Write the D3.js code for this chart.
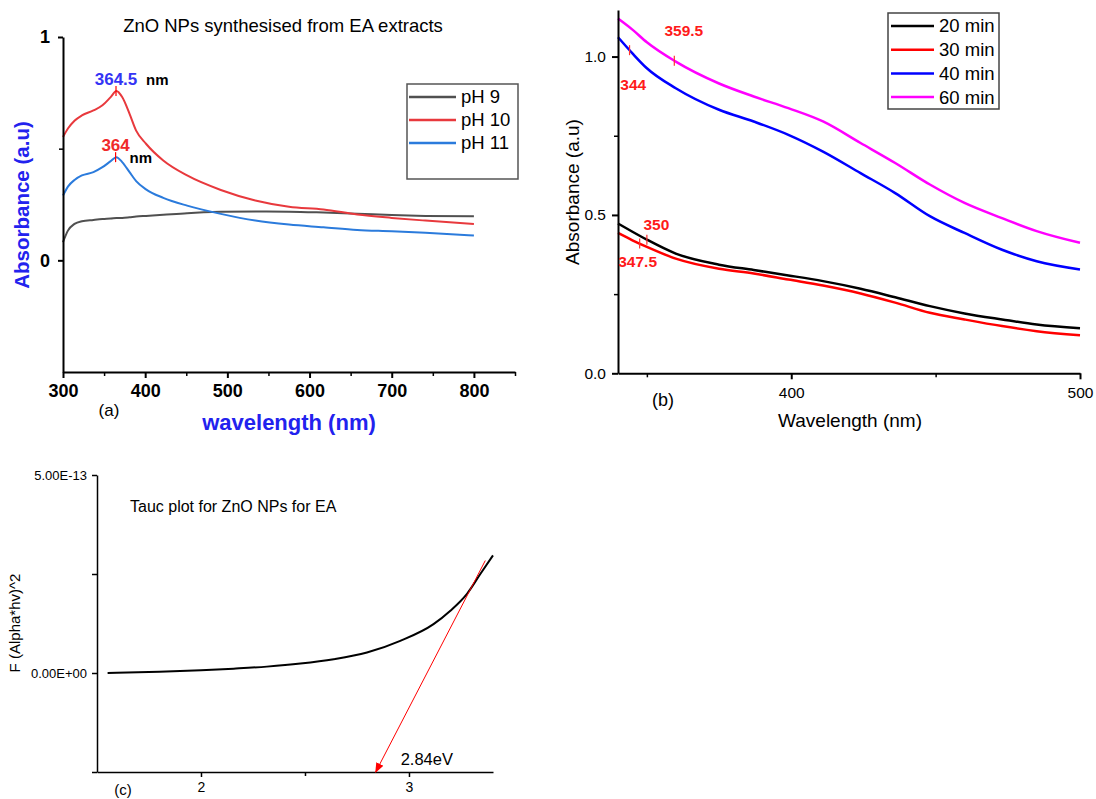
<!DOCTYPE html>
<html>
<head>
<meta charset="utf-8">
<script src="https://cdn.jsdelivr.net/npm/d3@7"></script>
<style>
body { margin: 0; background: #fff; }
svg { display: block; font-family: "Liberation Sans", Arial, sans-serif; }
</style>
</head>
<body>
<div id="chart"></div>
<script>
// (a) ZnO NPs at different pH
var wlA = [300, 306, 314, 323, 337, 348, 358, 365, 372, 381, 389, 401, 422, 451, 492, 534, 575, 617, 658, 700, 741, 800];
var ph9 = [0.081, 0.133, 0.163, 0.175, 0.181, 0.185, 0.187, 0.189, 0.19, 0.193, 0.196, 0.199, 0.204, 0.211, 0.217, 0.219, 0.218, 0.214, 0.209, 0.203, 0.199, 0.197];
var ph10 = [0.552, 0.59, 0.625, 0.649, 0.671, 0.694, 0.731, 0.758, 0.731, 0.656, 0.581, 0.522, 0.447, 0.38, 0.315, 0.268, 0.24, 0.228, 0.205, 0.19, 0.178, 0.163];
var ph11 = [0.29, 0.33, 0.36, 0.38, 0.395, 0.417, 0.444, 0.462, 0.44, 0.395, 0.355, 0.318, 0.28, 0.245, 0.208, 0.178, 0.16, 0.148, 0.136, 0.13, 0.123, 0.111];
var phNames = ["pH 9", "pH 10", "pH 11"];
var peakA10 = 364.5;
var peakA11 = 364;

// (b) reaction time
var wlB = [340, 345, 350, 360, 375, 387, 399, 411, 424, 436, 448, 460, 473, 485, 500];
var t20 = [0.473, 0.447, 0.422, 0.378, 0.343, 0.326, 0.309, 0.291, 0.267, 0.24, 0.212, 0.189, 0.17, 0.154, 0.142];
var t30 = [0.443, 0.42, 0.399, 0.362, 0.33, 0.315, 0.296, 0.277, 0.252, 0.223, 0.191, 0.17, 0.149, 0.133, 0.12];
var t40 = [1.061, 1.01, 0.963, 0.9, 0.832, 0.795, 0.753, 0.7, 0.632, 0.569, 0.496, 0.443, 0.39, 0.354, 0.328];
var t60 = [1.12, 1.085, 1.045, 0.984, 0.915, 0.874, 0.837, 0.795, 0.727, 0.664, 0.596, 0.538, 0.49, 0.449, 0.412];
var timeNames = ["20 min", "30 min", "40 min", "60 min"];
var peaksB = [350, 347.5, 344, 359.5];

// (c) Tauc plot, values in units of 1E-13
var eV = [1.551, 1.8, 2.0, 2.157, 2.317, 2.478, 2.638, 2.798, 2.958, 3.118, 3.199, 3.279, 3.343, 3.404];
var tauc = [0, 0.03, 0.068, 0.11, 0.161, 0.237, 0.347, 0.516, 0.812, 1.235, 1.574, 2.0, 2.5, 2.97];
var gapEV = 2.84;
var tangentEV = [3.367, 2.84];
var tangentF = [2.84, -2.5];

var svg = d3.select("#chart").append("svg")
    .attr("width", 1096)
    .attr("height", 799);
svg.append("rect").attr("width", 1096).attr("height", 799).attr("fill", "#fff");

function styleAxis(g, w, fs, bold) {
    g.select(".domain").attr("stroke", "#000").attr("stroke-width", w);
    g.selectAll(".tick line").attr("stroke", "#000").attr("stroke-width", w);
    g.selectAll(".tick text").attr("fill", "#000")
        .attr("font-size", fs + "px")
        .attr("font-family", "Liberation Sans, Arial, sans-serif")
        .attr("font-weight", bold ? "bold" : "normal");
}

// minor ticks, no labels, no domain line
function minor(g, axis) {
    g.call(axis);
    g.select(".domain").remove();
    g.selectAll(".tick line").attr("stroke", "#000").attr("stroke-width", 1.5);
}

function pts(xs, ys) {
    return xs.map(function(v, i) { return [v, ys[i]]; });
}

function drawA() {
    var x = d3.scaleLinear().domain([300, 850]).range([63, 515]);
    var y = d3.scaleLinear().domain([-0.5, 1]).range([372, 37]);
    var g = svg.append("g");
    var colors = ["#505050", "#e8393d", "#2b7bdc"];
    var series = [ph9, ph10, ph11];

    var line = d3.line()
        .x(function(d) { return x(d[0]); })
        .y(function(d) { return y(d[1]); })
        .curve(d3.curveMonotoneX);

    series.forEach(function(s, i) {
        g.append("path").attr("d", line(pts(wlA, s)))
            .attr("fill", "none").attr("stroke", colors[i]).attr("stroke-width", 2);
    });

    g.append("g").attr("transform", "translate(0,372)")
        .call(d3.axisBottom(x).tickValues([300, 400, 500, 600, 700, 800]).tickSize(6).tickSizeOuter(0).tickPadding(6))
        .call(styleAxis, 2, 18, true);
    minor(g.append("g").attr("transform", "translate(0,372)"),
        d3.axisBottom(x).tickValues([350, 450, 550, 650, 750, 850]).tickSize(4).tickFormat(""));

    g.append("g").attr("transform", "translate(63,0)")
        .call(d3.axisLeft(y).tickValues([0, 1]).tickFormat(d3.format("d")).tickSize(5).tickSizeOuter(0).tickPadding(8))
        .call(styleAxis, 2, 18, true);
    minor(g.append("g").attr("transform", "translate(63,0)"),
        d3.axisLeft(y).tickValues([0.5]).tickSize(4).tickFormat(""));

    // peak markers
    var p10 = [peakA10, 0.758], p11 = [peakA11, 0.462];
    [p10, p11].forEach(function(p) {
        g.append("line").attr("x1", x(p[0])).attr("x2", x(p[0]))
            .attr("y1", y(p[1]) - 5).attr("y2", y(p[1]) + 5)
            .attr("stroke", "#ff0000").attr("stroke-width", 1.2);
    });
    g.append("text").attr("x", x(p10[0])).attr("y", y(p10[1]) - 6.5)
        .attr("text-anchor", "middle").attr("font-size", "17px").attr("font-weight", "bold")
        .attr("fill", "#3434f5").text(peakA10);
    g.append("text").attr("x", x(p10[0]) + 30).attr("y", y(p10[1]) - 6.5)
        .attr("font-size", "15px").attr("font-weight", "bold").text("nm");
    g.append("text").attr("x", x(p11[0])).attr("y", y(p11[1]) - 6.5)
        .attr("text-anchor", "middle").attr("font-size", "17px").attr("font-weight", "bold")
        .attr("fill", "#f02a2a").text(peakA11);
    g.append("text").attr("x", x(p11[0]) + 14).attr("y", y(p11[1]) + 5.5)
        .attr("font-size", "15px").attr("font-weight", "bold").text("nm");

    // title & labels
    g.append("text").attr("x", 283).attr("y", 32).attr("text-anchor", "middle")
        .attr("font-size", "18.5px").text("ZnO NPs synthesised from EA extracts");
    g.append("text").attr("x", 109).attr("y", 416).attr("text-anchor", "middle")
        .attr("font-size", "17px").text("(a)");
    g.append("text").attr("x", 289).attr("y", 430).attr("text-anchor", "middle")
        .attr("font-size", "22px").attr("font-weight", "bold").attr("fill", "#2222ee")
        .text("wavelength (nm)");
    g.append("text").attr("transform", "translate(29,205) rotate(-90)").attr("text-anchor", "middle")
        .attr("font-size", "20.5px").attr("font-weight", "bold").attr("fill", "#2222ee")
        .text("Absorbance (a.u)");

    // legend
    var lg = g.append("g");
    lg.append("rect").attr("x", 407).attr("y", 84).attr("width", 111).attr("height", 95)
        .attr("fill", "#fff").attr("stroke", "#555").attr("stroke-width", 1.5);
    phNames.forEach(function(n, i) {
        var yy = 97 + i * 23;
        lg.append("line").attr("x1", 409).attr("x2", 456).attr("y1", yy).attr("y2", yy)
            .attr("stroke", colors[i]).attr("stroke-width", 2.5);
        lg.append("text").attr("x", 461).attr("y", yy).attr("dy", "0.35em")
            .attr("font-size", "18.5px").text(n);
    });
}

function drawB() {
    var x = d3.scaleLinear().domain([340, 500]).range([618, 1080]);
    var y = d3.scaleLinear().domain([0, 1.147]).range([373.3, 10]);
    var g = svg.append("g");
    var colors = ["#000000", "#ff0000", "#0000ff", "#ff00ff"];
    var series = [t20, t30, t40, t60];

    var line = d3.line()
        .x(function(d) { return x(d[0]); })
        .y(function(d) { return y(d[1]); })
        .curve(d3.curveMonotoneX);

    series.forEach(function(s, i) {
        g.append("path").attr("d", line(pts(wlB, s)))
            .attr("fill", "none").attr("stroke", colors[i]).attr("stroke-width", 2.5);
    });

    g.append("g").attr("transform", "translate(0,373.3)")
        .call(d3.axisBottom(x).tickValues([400, 500]).tickSize(6).tickSizeOuter(0).tickPadding(8))
        .call(styleAxis, 2, 15.5, false);
    minor(g.append("g").attr("transform", "translate(0,373.3)"),
        d3.axisBottom(x).tickValues([350, 450]).tickSize(4).tickFormat(""));

    g.append("g").attr("transform", "translate(618,0)")
        .call(d3.axisLeft(y).tickValues([0, 0.5, 1]).tickFormat(d3.format(".1f")).tickSize(6).tickSizeOuter(0).tickPadding(6))
        .call(styleAxis, 2, 15.5, false);
    minor(g.append("g").attr("transform", "translate(618,0)"),
        d3.axisLeft(y).tickValues([0.25, 0.75]).tickSize(4).tickFormat(""));

    // peak markers and labels
    var offs = [[9.5, -9.7], [-2, 23], [3.7, 39.7], [9.5, -24.7]];
    peaksB.forEach(function(p, i) {
        var v = d3.scaleLinear().domain(wlB).range(series[i])(p);
        var px = x(p), py = y(v);
        g.append("line").attr("x1", px).attr("x2", px).attr("y1", py - 5).attr("y2", py + 5)
            .attr("stroke", "#ff3030").attr("stroke-width", 1.2);
        g.append("text").attr("x", px + offs[i][0]).attr("y", py + offs[i][1])
            .attr("text-anchor", "middle").attr("font-size", "15.5px").attr("font-weight", "bold")
            .attr("fill", "#ff1a1a").text(p);
    });

    g.append("text").attr("x", 663).attr("y", 406).attr("text-anchor", "middle")
        .attr("font-size", "18px").text("(b)");
    g.append("text").attr("x", 850).attr("y", 427).attr("text-anchor", "middle")
        .attr("font-size", "19px").text("Wavelength (nm)");
    g.append("text").attr("transform", "translate(579,192) rotate(-90)").attr("text-anchor", "middle")
        .attr("font-size", "19px").text("Absorbance (a.u)");

    var lg = g.append("g");
    lg.append("rect").attr("x", 888).attr("y", 13).attr("width", 111).attr("height", 96)
        .attr("fill", "#fff").attr("stroke", "#444").attr("stroke-width", 1.5);
    timeNames.forEach(function(n, i) {
        var yy = 26 + i * 23.7;
        lg.append("line").attr("x1", 891).attr("x2", 934).attr("y1", yy).attr("y2", yy)
            .attr("stroke", colors[i]).attr("stroke-width", 2.5);
        lg.append("text").attr("x", 939).attr("y", yy).attr("dy", "0.35em")
            .attr("font-size", "18.5px").text(n);
    });
}

function sci(v) {
    if (v === 0) return "0.00E+00";
    var e = Math.floor(Math.log10(Math.abs(v)) + 1e-9);
    var m = v / Math.pow(10, e);
    return m.toFixed(2) + "E" + (e < 0 ? "-" : "+") + String(Math.abs(e)).padStart(2, "0");
}

function drawC() {
    var x = d3.scaleLinear().domain([1.5, 3.404]).range([97, 493]);
    var y = d3.scaleLinear().domain([-2.5e-13, 5e-13]).range([772, 475]);
    var g = svg.append("g");

    var line = d3.line()
        .x(function(d) { return x(d[0]); })
        .y(function(d) { return y(d[1] * 1e-13); })
        .curve(d3.curveMonotoneX);

    g.append("path").attr("d", line(pts(eV, tauc)))
        .attr("fill", "none").attr("stroke", "#000").attr("stroke-width", 2);

    g.append("g").attr("transform", "translate(0,772)")
        .call(d3.axisBottom(x).tickValues([2, 3]).tickFormat(d3.format("d")).tickSize(5).tickSizeOuter(0).tickPadding(5))
        .call(styleAxis, 1.5, 14, false);
    minor(g.append("g").attr("transform", "translate(0,772)"),
        d3.axisBottom(x).tickValues([2.5]).tickSize(4).tickFormat(""));

    g.append("g").attr("transform", "translate(97,0)")
        .call(d3.axisLeft(y).tickValues([0, 5e-13]).tickFormat(sci).tickSize(5).tickSizeOuter(0).tickPadding(5))
        .call(styleAxis, 1.5, 13, false);
    minor(g.append("g").attr("transform", "translate(97,0)"),
        d3.axisLeft(y).tickValues([-2.5e-13, 2.5e-13]).tickSize(5).tickFormat(""));

    // tangent arrow
    svg.append("defs").append("marker").attr("id", "arr")
        .attr("viewBox", "0 0 10 10").attr("refX", 9).attr("refY", 5)
        .attr("markerWidth", 10).attr("markerHeight", 10).attr("markerUnits", "userSpaceOnUse")
        .attr("orient", "auto")
        .append("path").attr("d", "M0,1 L10,5 L0,9 z").attr("fill", "#ff0000");
    g.append("line")
        .attr("x1", x(tangentEV[0])).attr("y1", y(tangentF[0] * 1e-13))
        .attr("x2", x(tangentEV[1])).attr("y2", y(tangentF[1] * 1e-13))
        .attr("stroke", "#ff0000").attr("stroke-width", 1).attr("marker-end", "url(#arr)");
    g.append("text").attr("x", x(gapEV) + 25).attr("y", 765)
        .attr("font-size", "16.5px").text(gapEV + "eV");

    g.append("text").attr("x", 130).attr("y", 512).attr("font-size", "16px")
        .text("Tauc plot for ZnO NPs for EA");
    g.append("text").attr("x", 123).attr("y", 795).attr("text-anchor", "middle")
        .attr("font-size", "15px").text("(c)");
    g.append("text").attr("transform", "translate(20,623) rotate(-90)").attr("text-anchor", "middle")
        .attr("font-size", "15px").text("F (Alpha*hv)^2");
}

drawA();
drawB();
drawC();
</script>
</body>
</html>
